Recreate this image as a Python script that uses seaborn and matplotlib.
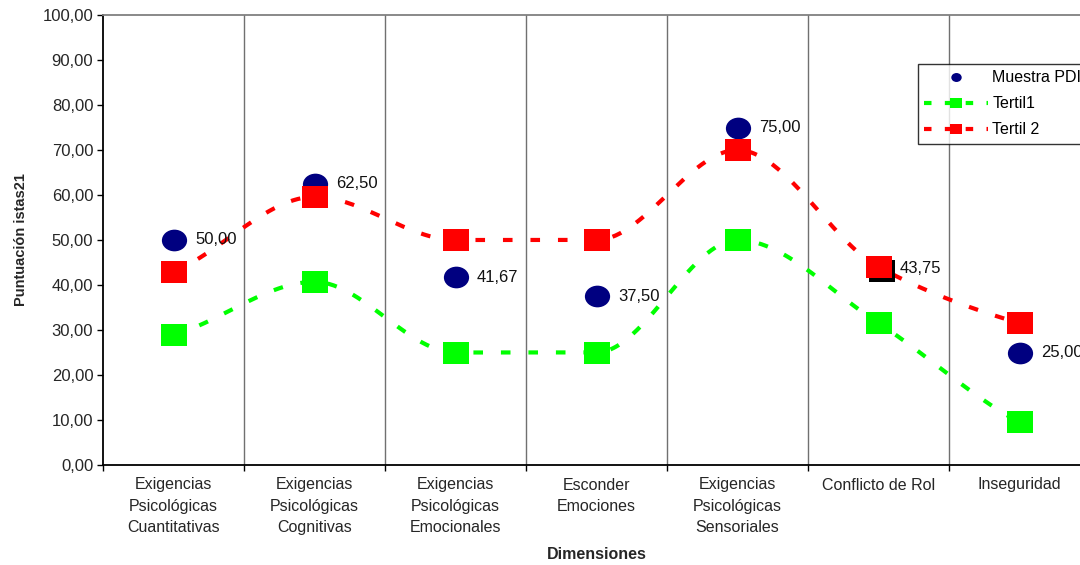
import numpy as np
import pandas as pd
import matplotlib
matplotlib.use("Agg")
import matplotlib.pyplot as plt
import matplotlib.transforms as mtransforms
from matplotlib.path import Path
from matplotlib.markers import MarkerStyle
from matplotlib.lines import Line2D
from matplotlib.ticker import FixedLocator, FuncFormatter
import seaborn as sns

# ---- data -------------------------------------------------------------
categories = [
    "Exigencias\nPsicológicas\nCuantitativas",
    "Exigencias\nPsicológicas\nCognitivas",
    "Exigencias\nPsicológicas\nEmocionales",
    "Esconder\nEmociones",
    "Exigencias\nPsicológicas\nSensoriales",
    "Conflicto de Rol",
    "Inseguridad",
]
muestra_pdi = [50.00, 62.50, 41.67, 37.50, 75.00, 43.75, 25.00]
tertil1 = [28.9, 40.7, 25.0, 25.0, 50.0, 31.5, 9.5]
tertil2 = [43.0, 59.6, 50.0, 50.0, 70.0, 44.0, 31.5]
y_ticks = list(range(0, 101, 10))
series_labels = ["Muestra PDI", "Tertil1", "Tertil 2"]

NAVY = "#000080"
GREEN = "#00FF00"
RED = "#FF0000"

# ---- style ------------------------------------------------------------
sns.set_theme(style="white")
plt.rcParams["font.family"] = ["Liberation Sans", "DejaVu Sans"]
plt.rcParams["text.color"] = "black"


def coma(v):
    return f"{v:.2f}".replace(".", ",")


def smooth(values, steps=60):
    """Monotone cubic Hermite curve through the points (x = 1..n)."""
    y = np.asarray(values, dtype=float)
    n = len(y)
    d = np.diff(y)
    m = np.zeros(n)
    for k in range(1, n - 1):
        if d[k - 1] * d[k] > 0:
            m[k] = 2.0 / (1.0 / d[k - 1] + 1.0 / d[k])
    m[0] = d[0] * 0.75
    m[-1] = d[-1] * 0.75
    xs, ys = [], []
    t = np.linspace(0, 1, steps)
    h00 = 2 * t**3 - 3 * t**2 + 1
    h10 = t**3 - 2 * t**2 + t
    h01 = -2 * t**3 + 3 * t**2
    h11 = t**3 - t**2
    for k in range(n - 1):
        seg = h00 * y[k] + h10 * m[k] + h01 * y[k + 1] + h11 * m[k + 1]
        last = k == n - 2
        xs.extend((k + 1 + t) if last else (k + 1 + t)[:-1])
        ys.extend(seg if last else seg[:-1])
    return pd.DataFrame({"x": xs, "y": ys})


# squashed markers (ellipse and rectangle)
circ = Path.unit_circle()
ellipse = Path(circ.vertices * np.array([1.0, 0.86]), circ.codes)
rect = Path([(-1, -0.87), (1, -0.87), (1, 0.87), (-1, 0.87), (-1, -0.87)],
            [Path.MOVETO, Path.LINETO, Path.LINETO, Path.LINETO, Path.CLOSEPOLY])

# ---- figure -----------------------------------------------------------
fig = plt.figure(figsize=(10.8, 5.65), dpi=100)
ax = fig.add_axes([103 / 1080, 100 / 565, 987 / 1080, 450 / 565])

x = np.arange(1, len(categories) + 1)
dash = (0, (2.3, 4.3))

# smoothed dashed lines for the tertiles
for vals, col in [(tertil1, GREEN), (tertil2, RED)]:
    sns.lineplot(data=smooth(vals), x="x", y="y", sort=False, estimator=None,
                 color=col, linewidth=3, linestyle=dash, ax=ax, zorder=2,
                 legend=False)

MS = 330
sns.scatterplot(x=x, y=muestra_pdi, marker=MarkerStyle(ellipse), s=MS,
                color=NAVY, linewidth=0, ax=ax, zorder=3, legend=False)

# shadowed marker behind the "Conflicto de Rol" point
sns.scatterplot(x=[x[5]], y=[muestra_pdi[5]], marker=MarkerStyle(rect), s=MS,
                color="black", linewidth=0, ax=ax, zorder=3.5, legend=False)
ax.collections[-1].set_offset_transform(
    mtransforms.offset_copy(ax.transData, fig=fig, x=3, y=-3, units="dots"))

sns.scatterplot(x=x, y=tertil1, marker=MarkerStyle(rect), s=MS,
                color=GREEN, linewidth=0, ax=ax, zorder=4, legend=False)
sns.scatterplot(x=x, y=tertil2, marker=MarkerStyle(rect), s=MS,
                color=RED, linewidth=0, ax=ax, zorder=5, legend=False)

# value labels for the sample
for xi, v in zip(x, muestra_pdi):
    ax.annotate(coma(v), (xi, v), xytext=(15.5, 0), textcoords="offset points",
                ha="left", va="center", fontsize=12, color="#111111", zorder=6)

# ---- axes -------------------------------------------------------------
ax.set_xlim(0.5, len(categories) + 0.5)
ax.set_ylim(0, 100)

for b in np.arange(1.5, len(categories), 1.0):
    ax.axvline(b, color="#707070", linewidth=1.0, zorder=1)

ax.yaxis.set_major_locator(FixedLocator(y_ticks))
ax.yaxis.set_major_formatter(FuncFormatter(lambda v, p: coma(v)))
ax.set_xticks(x)
ax.set_xticklabels(categories)
ax.xaxis.set_minor_locator(FixedLocator(np.arange(0.5, len(categories) + 1, 1.0)))
ax.tick_params(axis="x", which="major", length=0, pad=9, labelsize=11.5)
ax.tick_params(axis="x", which="minor", length=4, width=1, color="black",
               direction="out", bottom=True)
ax.tick_params(axis="y", which="major", length=4, width=1, color="black",
               direction="out", left=True, pad=3, labelsize=12)
for lab in ax.get_xticklabels():
    lab.set_linespacing(1.52)

for side in ("left", "bottom"):
    ax.spines[side].set_color("black")
    ax.spines[side].set_linewidth(1.3)
ax.spines["top"].set_color("#808080")
ax.spines["top"].set_linewidth(1.3)
ax.spines["right"].set_color("#808080")

ax.set_xlabel("Dimensiones", fontsize=11.5, fontweight="bold")
ax.set_ylabel("Puntuación istas21", fontsize=10.5, fontweight="bold")
ax.xaxis.set_label_coords(0.5, -0.182)
ax.yaxis.set_label_coords(-0.076, 0.5)
ax.grid(False)

# ---- legend -----------------------------------------------------------
handles = [
    Line2D([], [], linestyle="none", marker=MarkerStyle(ellipse), markersize=7.5,
           color=NAVY, markeredgewidth=0),
    Line2D([], [], color=GREEN, linewidth=3, linestyle=(0, (1.8, 3.2)),
           marker=MarkerStyle(rect), markersize=8, markeredgewidth=0),
    Line2D([], [], color=RED, linewidth=3, linestyle=(0, (1.8, 3.2)),
           marker=MarkerStyle(rect), markersize=8, markeredgewidth=0),
]
leg = fig.legend(handles, series_labels, loc="upper left",
                 bbox_to_anchor=(918 / 1080, 1 - 64 / 565),
                 frameon=True, fancybox=False, edgecolor="black", fontsize=11.5,
                 handlelength=4.0, borderpad=0.4, labelspacing=0.68,
                 handletextpad=0.25, borderaxespad=0, numpoints=1)
leg.get_frame().set_linewidth(1.0)

fig.savefig("out.png", dpi=100)
